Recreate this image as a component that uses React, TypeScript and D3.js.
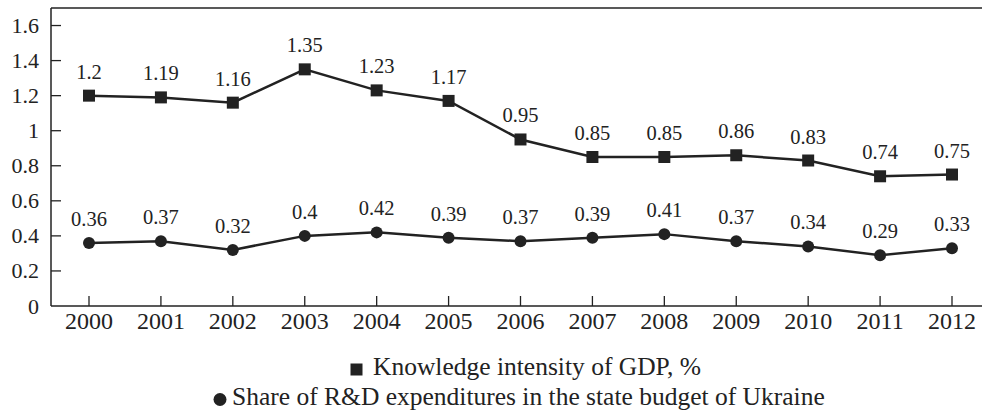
import React from "react";
import * as d3 from "d3";

const years = ["2000","2001","2002","2003","2004","2005","2006","2007","2008","2009","2010","2011","2012"];
const knowledge = [1.2, 1.19, 1.16, 1.35, 1.23, 1.17, 0.95, 0.85, 0.85, 0.86, 0.83, 0.74, 0.75];
const share = [0.36, 0.37, 0.32, 0.4, 0.42, 0.39, 0.37, 0.39, 0.41, 0.37, 0.34, 0.29, 0.33];
const yTicks = [0, 0.2, 0.4, 0.6, 0.8, 1, 1.2, 1.4, 1.6];
const seriesNames = ["Knowledge intensity of GDP, %", "Share of R&D expenditures in the state budget of Ukraine"];

const W = 982, H = 411;
const left = 51, right = 982, top = 8, bottom = 306;
const FONT = "'Liberation Serif', serif";
const INK = "#222";

export default function App() {
  const x = d3.scalePoint<string>().domain(years).range([89, 952]);
  const y = d3.scaleLinear().domain([0, 1.7]).range([bottom, top]);
  const line = d3.line<number>().x((_, i) => x(years[i])!).y(d => y(d));
  const fmt = (v: number) => String(v);

  return (
    <svg width={W} height={H} style={{ position: "absolute", left: 0, top: 0 }} fontFamily={FONT}>
      <rect x={0} y={0} width={W} height={H} fill="#fff" />
      <line x1={left} x2={right} y1={top} y2={top} stroke={INK} strokeWidth={1.5} />
      <line x1={left} x2={left} y1={top} y2={bottom} stroke={INK} strokeWidth={1.5} />
      <line x1={left} x2={right} y1={bottom} y2={bottom} stroke={INK} strokeWidth={1.5} />
      {yTicks.map(t => (
        <g key={t}>
          {t > 0 && <line x1={left} x2={left + 10} y1={y(t)} y2={y(t)} stroke={INK} strokeWidth={1.3} />}
          <text x={39} y={y(t) + 7.5} textAnchor="end" fontSize={22} fill={INK}>{fmt(t)}</text>
        </g>
      ))}
      {years.map(yr => (
        <g key={yr}>
          <line x1={x(yr)} x2={x(yr)} y1={bottom} y2={bottom - 10} stroke={INK} strokeWidth={1.3} />
          <text x={x(yr)} y={329} textAnchor="middle" fontSize={24} fill={INK}>{yr}</text>
        </g>
      ))}
      <path d={line(knowledge)!} fill="none" stroke={INK} strokeWidth={2.5} />
      {knowledge.map((v, i) => (
        <g key={"k" + i}>
          <rect x={x(years[i])! - 6} y={y(v) - 6} width={12} height={12} fill={INK} />
          <text x={x(years[i])} y={y(v) - 17} textAnchor="middle" fontSize={20.5} fill={INK}>{fmt(v)}</text>
        </g>
      ))}
      <path d={line(share)!} fill="none" stroke={INK} strokeWidth={2.5} />
      {share.map((v, i) => (
        <g key={"s" + i}>
          <circle cx={x(years[i])} cy={y(v)} r={6} fill={INK} />
          <text x={x(years[i])} y={y(v) - 17} textAnchor="middle" fontSize={20.5} fill={INK}>{fmt(v)}</text>
        </g>
      ))}
      <rect x={350.5} y={363.5} width={12} height={12} fill={INK} />
      <text x={373} y={375} fontSize={25.5} fill={INK}>{seriesNames[0]}</text>
      <circle cx={220} cy={399.5} r={6.5} fill={INK} />
      <text x={232} y={405} fontSize={25.5} fill={INK}>{seriesNames[1]}</text>
    </svg>
  );
}
